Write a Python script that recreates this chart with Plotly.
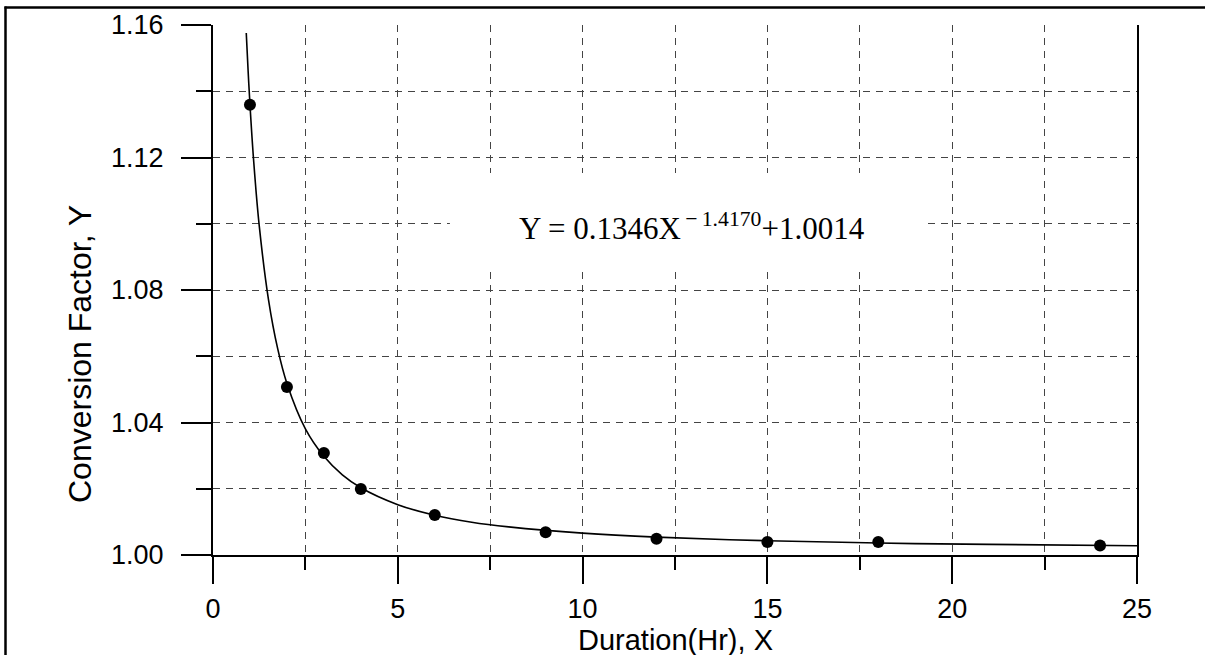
import plotly.graph_objects as go

# Observed data points (Duration X, Conversion factor Y)
duration = [1, 2, 3, 4, 6, 9, 12, 15, 18, 24]
factor = [1.1359, 1.0507, 1.0308, 1.0199, 1.0121, 1.0069, 1.0049, 1.0039, 1.0039, 1.0029]

curve_x = [0.9, 0.95, 1.0, 1.1, 1.25, 1.5, 1.75, 2.0, 2.5, 3.0, 3.5, 4.0, 5.0, 6.0, 7.0, 8.0, 10.0, 12.0, 15.0, 18.0, 21.0, 25.0]
curve_y = [1.1576, 1.1462, 1.1360, 1.1190, 1.0995, 1.0772, 1.0623, 1.0518, 1.0381, 1.0298, 1.0242, 1.0203,
           1.0152, 1.0120, 1.0099, 1.0085, 1.0066, 1.0054, 1.0043, 1.0036, 1.0032, 1.0028]

equation = "Y = 0.1346X<sup>\u2009\u2212\u20091.4170</sup>+1.0014"
x_title = "Duration(Hr), X"
y_title = "Conversion Factor, Y"

L, R, T, B = 213, 68, 25, 100
W, H = 1205, 655
PW, PH = W - L - R, H - T - B


def xp(px):
    return (px - L) / PW


def yp(py):
    return (H - B - py) / PH


fig = go.Figure()
fig.add_trace(go.Scatter(x=curve_x, y=curve_y, mode="lines", line=dict(color="black", width=1.6, shape="spline"),
                         hoverinfo="skip", showlegend=False))
fig.add_trace(go.Scatter(x=duration, y=factor, mode="markers",
                         marker=dict(color="black", size=12, symbol="circle"), showlegend=False))

sans = "Liberation Sans, Arial, sans-serif"
grid = dict(showgrid=True, gridcolor="#444444", gridwidth=1.3, griddash="7px,6px")

fig.update_xaxes(range=[0, 25], tick0=0, dtick=5, ticks="outside", ticklen=27, tickwidth=1.6, tickcolor="black",
                 showline=True, linecolor="black", linewidth=2, mirror=False, zeroline=False,
                 tickfont=dict(family=sans, size=27, color="black"), ticklabelstandoff=2,
                 minor=dict(dtick=2.5, ticks="outside", ticklen=13, tickwidth=1.6, tickcolor="black", **grid),
                 **grid)
fig.update_yaxes(range=[1.0, 1.16], tick0=1.0, dtick=0.04, tickformat=".2f", ticks="outside", ticklen=30,
                 tickwidth=1.6, tickcolor="black",
                 showline=True, linecolor="black", linewidth=2, mirror=True, zeroline=False,
                 tickfont=dict(family=sans, size=27, color="black"), ticklabelstandoff=12,
                 minor=dict(dtick=0.02, ticks="outside", ticklen=15, tickwidth=1.6, tickcolor="black", **grid),
                 **grid)

# white box behind the equation (hides grid, sits under the traces)
fig.add_shape(type="rect", xref="x", yref="y", x0=6.41, x1=19.21, y0=1.0854, y1=1.1153,
              fillcolor="white", line=dict(width=0), layer="between")

fig.add_annotation(x=12.96, y=1.0993, xref="x", yref="y", text=equation, showarrow=False,
                   font=dict(family="Liberation Serif, Times New Roman, serif", size=31, color="black"),
                   xanchor="center", yanchor="middle")

fig.add_annotation(x=0.5, y=yp(640), xref="paper", yref="paper", text=x_title, showarrow=False,
                   font=dict(family=sans, size=29, color="black"), xanchor="center", yanchor="middle")
fig.add_annotation(x=xp(80), y=yp(354), xref="paper", yref="paper", text=y_title, showarrow=False, textangle=-90,
                   font=dict(family=sans, size=32, color="black"), xanchor="center", yanchor="middle")

# outer frame (left and top edges visible)
fig.add_shape(type="line", xref="paper", yref="paper", x0=xp(5.5), x1=xp(5.5), y0=yp(6.5), y1=yp(700),
              line=dict(color="black", width=2.5), layer="above")
fig.add_shape(type="line", xref="paper", yref="paper", x0=xp(4.5), x1=xp(1250), y0=yp(7.5), y1=yp(7.5),
              line=dict(color="black", width=2.5), layer="above")

fig.update_layout(width=W, height=H, margin=dict(l=L, r=R, t=T, b=B, autoexpand=False),
                  plot_bgcolor="white", paper_bgcolor="white", showlegend=False)

fig.write_html("out.html", config={"displayModeBar": False},
               post_script="document.body.style.margin='0px';document.body.style.overflow='hidden';")
